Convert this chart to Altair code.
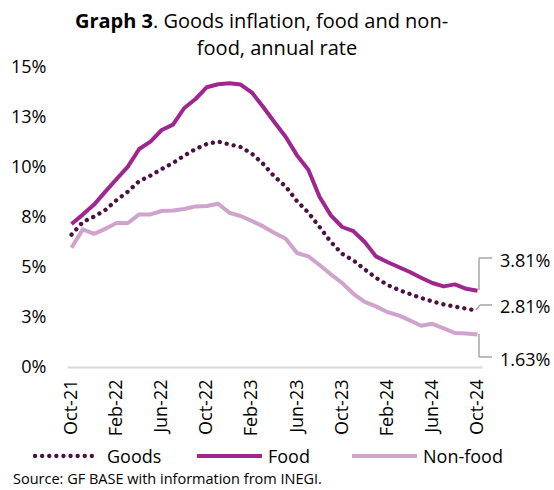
import altair as alt
import pandas as pd

months = ["Oct-21","Nov-21","Dec-21","Jan-22","Feb-22","Mar-22","Apr-22","May-22","Jun-22","Jul-22",
          "Aug-22","Sep-22","Oct-22","Nov-22","Dec-22","Jan-23","Feb-23","Mar-23","Apr-23","May-23",
          "Jun-23","Jul-23","Aug-23","Sep-23","Oct-23","Nov-23","Dec-23","Jan-24","Feb-24","Mar-24",
          "Apr-24","May-24","Jun-24","Jul-24","Aug-24","Sep-24","Oct-24"]
tick_labels = ["Oct-21","Feb-22","Jun-22","Oct-22","Feb-23","Jun-23","Oct-23","Feb-24","Jun-24","Oct-24"]

goods = [6.62, 7.25, 7.52, 7.85, 8.35, 8.77, 9.29, 9.57, 9.9, 10.2, 10.57, 10.9, 11.15, 11.27,
         11.13, 11.0, 10.66, 10.15, 9.52, 9.02, 8.29, 7.72, 7.0, 6.25, 5.66, 5.33, 4.88, 4.46,
         4.11, 3.86, 3.65, 3.45, 3.28, 3.13, 3.02, 2.92, 2.81]
food = [7.15, 7.62, 8.12, 8.77, 9.4, 10.02, 10.9, 11.27, 11.85, 12.12, 12.95, 13.4, 13.99, 14.14,
        14.19, 14.12, 13.72, 13.0, 12.24, 11.5, 10.58, 9.86, 8.5, 7.58, 7.0, 6.79, 6.25, 5.53,
        5.25, 5.0, 4.75, 4.46, 4.2, 4.03, 4.13, 3.91, 3.81]
nonfood = [5.96, 6.88, 6.66, 6.91, 7.2, 7.2, 7.63, 7.63, 7.8, 7.83, 7.9, 8.03, 8.05, 8.16,
           7.71, 7.55, 7.3, 7.03, 6.7, 6.41, 5.7, 5.53, 5.1, 4.63, 4.2, 3.66, 3.26, 3.03,
           2.75, 2.58, 2.33, 2.06, 2.16, 1.93, 1.7, 1.68, 1.63]

series = ["Goods", "Food", "Non-food"]
colors = ["#4A1242", "#A0268F", "#CFA3CB"]
end_labels = ["2.81%", "3.81%", "1.63%"]

rows = []
for name, vals in zip(series, [goods, food, nonfood]):
    for m, v in zip(months, vals):
        rows.append({"month": m, "value": v, "series": name})
df = pd.DataFrame(rows)

FONT = "Open Sans"
one = pd.DataFrame({"k": [0]})

x_enc = alt.X("month:O", sort=months,
              scale=alt.Scale(type="point", padding=0.4),
              axis=alt.Axis(values=tick_labels, labelAngle=270, labelFont=FONT, labelFontSize=18,
                            labelColor="#000000", ticks=False, domainColor="#D9D9D9",
                            domainWidth=2, labelPadding=12, title=None, grid=False))
y_enc = alt.Y("value:Q", scale=alt.Scale(domain=[0, 15], nice=False, zero=True),
              axis=alt.Axis(values=[0, 2.5, 5, 7.5, 10, 12.5, 15],
                            labelExpr="round(datum.value) + '%'",
                            labelFont=FONT, labelFontSize=18, labelColor="#000000",
                            domain=False, ticks=False, grid=False, labelPadding=21, title=None))

base = alt.Chart(df).encode(x=x_enc, y=y_enc)

nonfood_line = base.transform_filter(alt.datum.series == "Non-food").mark_line(
    color=colors[2], strokeWidth=4, strokeJoin="round")
food_line = base.transform_filter(alt.datum.series == "Food").mark_line(
    color=colors[1], strokeWidth=4, strokeJoin="round")
goods_line = base.transform_filter(alt.datum.series == "Goods").mark_line(
    color=colors[0], strokeWidth=4.3, strokeDash=[0.1, 7], strokeCap="round")

def rule(x1, y1, x2, y2, color="#A6A6A6", w=1.5, dash=None, cap="butt"):
    kw = dict(color=color, strokeWidth=w, strokeCap=cap)
    if dash is not None:
        kw["strokeDash"] = dash
    return alt.Chart(one).mark_rule(**kw).encode(
        x=alt.value(x1), y=alt.value(y1), x2=alt.value(x2), y2=alt.value(y2))

def text(t, x, y, size=18, weight="normal", align="left", baseline="alphabetic"):
    return alt.Chart(one).mark_text(text=t, font=FONT, fontSize=size, fontWeight=weight,
                                    align=align, baseline=baseline, color="#000000").encode(
        x=alt.value(x), y=alt.value(y))

# connectors and end labels (plot-relative pixels)
connectors = [
    rule(412, 223, 412, 191), rule(412, 191, 425, 191),
    rule(409, 243, 413, 238), rule(413, 238, 425, 238),
    rule(412, 267, 412, 290), rule(412, 290, 425, 290),
]
labels = [
    text(end_labels[1], 433, 200),
    text(end_labels[0], 433, 246),
    text(end_labels[2], 433, 299),
]

# title
title = [
    text("Graph 3", 86, -39, size=20, weight="bold", align="right"),
    text(". Goods inflation, food and non-", 86, -39, size=20),
    text("food, annual rate", 210, -12, size=20, align="center"),
]

# legend
legend = [
    rule(-32, 389, 30, 389, color=colors[0], w=4.3, dash=[0.1, 7], cap="round"),
    text("Goods", 40, 396),
    rule(130, 389, 195, 389, color=colors[1], w=4),
    text("Food", 201, 396),
    rule(285, 389, 350, 389, color=colors[2], w=4),
    text("Non-food", 356, 396),
    text("Source: GF BASE with information from INEGI.", -54, 417, size=14.5),
]

chart = alt.layer(nonfood_line, food_line, goods_line, *connectors, *labels, *title, *legend).properties(
    width=415, height=300,
    autosize=alt.AutoSizeParams(type="none"),
    padding={"left": 67, "top": 67, "right": 72, "bottom": 123},
    background="white",
).configure_view(stroke=None)

chart.save("out.html", embed_options={"renderer": "svg", "actions": False})
